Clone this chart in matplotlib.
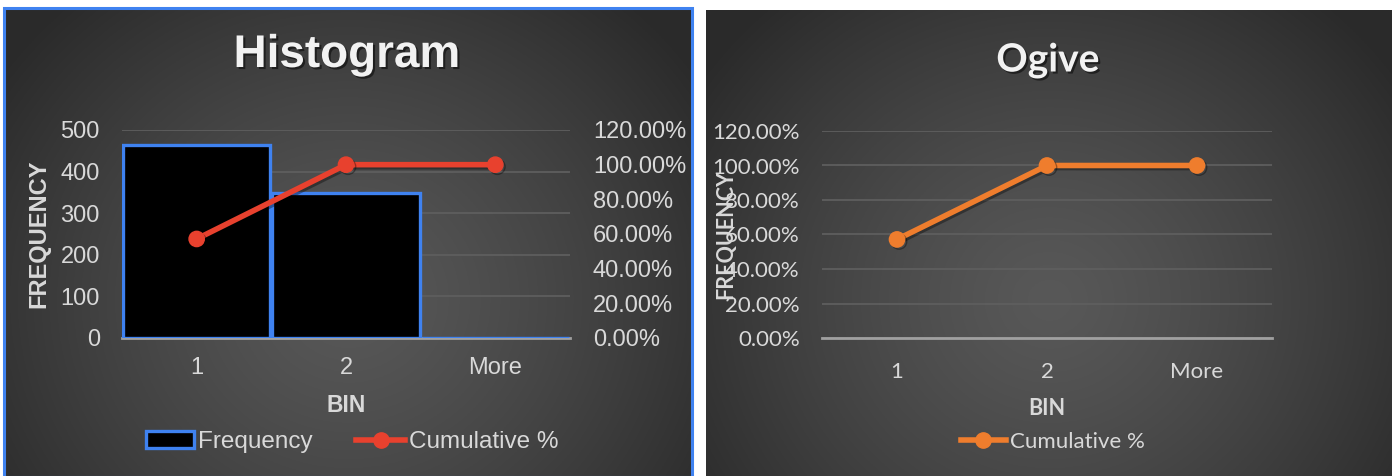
import numpy as np
import matplotlib.pyplot as plt
import matplotlib.patheffects as pe
from matplotlib.patches import Rectangle, Patch
from matplotlib.lines import Line2D
from matplotlib.ticker import FuncFormatter, MultipleLocator

bins = ['1', '2', 'More']
frequency = [464, 348, 0]
cumulative = [0.5714, 1.0, 1.0]

plt.rcParams['font.family'] = ['Liberation Sans', 'DejaVu Sans']

W, H = 1397, 476
fig = plt.figure(figsize=(W / 100, H / 100), dpi=100, facecolor='white')

TXT = '#d9d9d9'
GRID = '#5e5e5e'
BLUE = '#3f82f0'
RED = '#e8412e'
ORANGE = '#ef7d2d'


def px(x0, y0, x1, y1):
    # pixel box (top-left origin) -> figure fraction rect
    return [x0 / W, 1 - y1 / H, (x1 - x0) / W, (y1 - y0) / H]


def background(rect, border=None):
    bg = fig.add_axes(rect, zorder=-5)
    ny, nx = 300, 440
    yy, xx = np.mgrid[0:ny, 0:nx]
    r = np.sqrt(((xx - nx * 0.5) / (nx * 0.62)) ** 2 + ((yy - ny * 0.62) / (ny * 0.85)) ** 2)
    r = np.clip(r, 0, 1)
    v = 0.345 - (0.345 - 0.165) * r ** 1.3
    bg.imshow(np.dstack([v, v, v]), aspect='auto', extent=[0, 1, 0, 1], origin='upper')
    bg.set_xlim(0, 1)
    bg.set_ylim(0, 1)
    bg.axis('off')
    if border:
        bg.add_patch(Rectangle((0, 0), 1, 1, fill=False, ec=border, lw=2.2,
                               transform=bg.transAxes, clip_on=False))
    return bg


background(px(4, 8, 692, 477), border=BLUE)
background(px(706, 10, 1392, 477))

shadow = [pe.SimpleLineShadow(offset=(1.5, -1.5), shadow_color='black', alpha=0.35), pe.Normal()]
tshadow = [pe.withSimplePatchShadow(offset=(1.5, -1.5), shadow_rgbFace='black', alpha=0.5)]

# ---------------- Histogram ----------------
f1 = 'Liberation Sans'
ax = fig.add_axes(px(122, 130, 570, 338))
ax.patch.set_alpha(0)
x = np.arange(len(bins))
ax.bar(x, frequency, width=0.985, color='black', edgecolor=BLUE, linewidth=2.4, zorder=3)
ax.set_xlim(-0.5, 2.5)
ax.set_ylim(0, 500)
ax.yaxis.set_major_locator(MultipleLocator(100))
ax.grid(axis='y', color=GRID, lw=1.3, zorder=0)
ax.set_axisbelow(True)
for s in ['top', 'left', 'right']:
    ax.spines[s].set_visible(False)
ax.spines['bottom'].set_color('#a0a0a0')
ax.spines['bottom'].set_linewidth(2)
ax.set_xticks(x, bins)
ax.tick_params(length=0, labelsize=17, labelcolor=TXT, pad=14)
ax.tick_params(axis='y', pad=16)
for t in ax.get_xticklabels() + ax.get_yticklabels():
    t.set_family(f1)
ax.set_ylabel('FREQUENCY', fontsize=17, fontweight='bold', color=TXT, family=f1)
ax.yaxis.set_label_coords(-0.16, 0.5)
ax.set_xlabel('BIN', fontsize=16.5, fontweight='bold', color=TXT, family=f1)
ax.xaxis.set_label_coords(0.5, -0.27)

ax2 = ax.twinx()
ax2.plot(x, cumulative, color=RED, lw=4, marker='o', ms=11, zorder=5, path_effects=shadow)
ax2.set_ylim(0, 1.2)
ax2.yaxis.set_major_locator(MultipleLocator(0.2))
ax2.yaxis.set_major_formatter(FuncFormatter(lambda v, p: '%.2f%%' % (v * 100)))
for s in ax2.spines.values():
    s.set_visible(False)
ax2.tick_params(length=0, labelsize=17, labelcolor=TXT, pad=16.5)
for t in ax2.get_yticklabels():
    t.set_family(f1)

fig.text(347 / W, 1 - 55 / H, 'Histogram', ha='center', va='center', fontsize=33,
         fontweight='bold', color='#f2f2f2', family=f1, path_effects=tshadow)

h1 = Patch(facecolor='black', edgecolor=BLUE, lw=2.4)
h2 = Line2D([], [], color=RED, lw=4, marker='o', ms=11)
fig.legend([h1, h2], ['Frequency', 'Cumulative %'], loc='center', ncol=2,
           bbox_to_anchor=(352 / W, 1 - 442 / H), frameon=False, handlelength=2.0,
           handletextpad=0.15, columnspacing=1.8,
           prop={'family': f1, 'size': 17.5}, labelcolor=TXT)

# ---------------- Ogive ----------------
f2 = 'Lato'
bx = fig.add_axes(px(822, 131, 1272, 338))
bx.patch.set_alpha(0)
bx.plot(x, cumulative, color=ORANGE, lw=4, marker='o', ms=11, zorder=5, path_effects=shadow)
bx.set_xlim(-0.5, 2.5)
bx.set_ylim(0, 1.2)
bx.yaxis.set_major_locator(MultipleLocator(0.2))
bx.yaxis.set_major_formatter(FuncFormatter(lambda v, p: '%.2f%%' % (v * 100)))
bx.grid(axis='y', color=GRID, lw=1.3, zorder=0)
bx.set_axisbelow(True)
for s in ['top', 'left', 'right']:
    bx.spines[s].set_visible(False)
bx.spines['bottom'].set_color('#a0a0a0')
bx.spines['bottom'].set_linewidth(2)
bx.set_xticks(x, bins)
bx.tick_params(length=0, labelsize=16, labelcolor=TXT, pad=17)
bx.tick_params(axis='y', pad=16)
for t in bx.get_xticklabels() + bx.get_yticklabels():
    t.set_family(f2)
# the reference draws this label on top of the tick labels
bx.set_ylabel('FREQUENCY', fontsize=15.5, fontweight='bold', color=TXT, family=f2)
bx.yaxis.set_label_coords(-0.19, 0.5)
bx.set_xlabel('BIN', fontsize=15.5, fontweight='bold', color=TXT, family=f2)
bx.xaxis.set_label_coords(0.5, -0.29)

fig.text(1048 / W, 1 - 60 / H, 'Ogive', ha='center', va='center', fontsize=28,
         fontweight='bold', color='#f2f2f2', family=f2, path_effects=tshadow)

h3 = Line2D([], [], color=ORANGE, lw=4, marker='o', ms=11)
fig.legend([h3], ['Cumulative %'], loc='center', bbox_to_anchor=(1053 / W, 1 - 442 / H),
           frameon=False, handlelength=2.0, handletextpad=0.2,
           prop={'family': f2, 'size': 16}, labelcolor=TXT)

fig.savefig('out.png', dpi=100, facecolor='white')
